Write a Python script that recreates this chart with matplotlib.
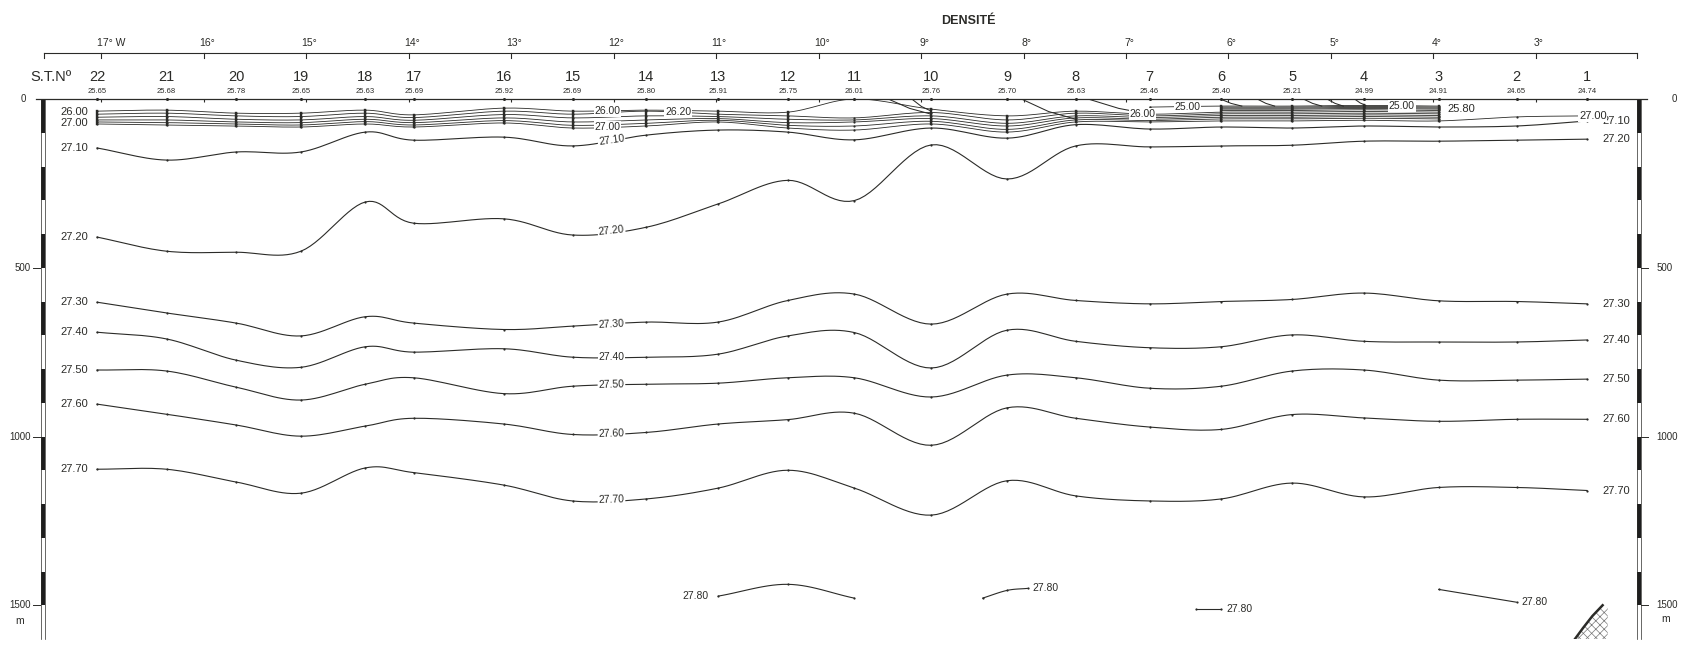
import numpy as np
import matplotlib
matplotlib.use("Agg")
import matplotlib.pyplot as plt
import matplotlib.transforms as mtransforms
from matplotlib.patches import Rectangle, Polygon

plt.rcParams['font.family'] = ['Liberation Sans', 'DejaVu Sans']
plt.rcParams['hatch.linewidth'] = 0.5

nan = np.nan
INK = '#2b2b28'

# stations from west to east
stations = ['22', '21', '20', '19', '18', '17', '16', '15', '14', '13', '12',
            '11', '10', '9', '8', '7', '6', '5', '4', '3', '2', '1']
station_lon = [-17.04, -16.36, -15.68, -15.05, -14.42, -13.95, -13.07, -12.40,
               -11.68, -10.98, -10.30, -9.65, -8.90, -8.16, -7.49, -6.77,
               -6.07, -5.38, -4.68, -3.95, -3.19, -2.50]
surface_density = ['25.65', '25.68', '25.78', '25.65', '25.63', '25.69', '25.92',
                   '25.69', '25.80', '25.91', '25.75', '26.01', '25.76', '25.70',
                   '25.63', '25.46', '25.40', '25.21', '24.99', '24.91', '24.65',
                   '24.74']

lon_ticks = [-17, -16, -15, -14, -13, -12, -11, -10, -9, -8, -7, -6, -5, -4, -3]
lon_labels = ['17° W', '16°', '15°', '14°', '13°', '12°', '11°', '10°', '9°',
              '8°', '7°', '6°', '5°', '4°', '3°']

# depth (m) of the isopycnals at each station
d2710 = [145, 181, 157, 157, 98, 122, 113, 139, 107, 92, 98, 121, 86, 116, 76,
         89, 83, 86, 80, 83, 80, 65]
d2720 = [409, 451, 454, 451, 305, 368, 355, 403, 380, 311, 241, 301, 136, 237,
         139, 142, 139, 137, 125, 125, 122, 119]
d2730 = [602, 634, 664, 702, 645, 664, 683, 673, 661, 661, 597, 578, 667, 578,
         597, 607, 600, 594, 575, 598, 600, 607]
d2740 = [691, 711, 774, 795, 734, 750, 740, 765, 765, 756, 702, 692, 797, 685,
         718, 737, 734, 699, 718, 720, 720, 714]
d2750 = [803, 806, 854, 892, 845, 826, 873, 851, 845, 842, 826, 826, 883, 818,
         826, 857, 851, 806, 803, 833, 833, 830]
d2760 = [904, 934, 966, 999, 969, 946, 963, 994, 988, 963, 950, 931, 1026, 915,
         946, 972, 979, 935, 945, 955, 949, 949]
d2770 = [1097, 1097, 1135, 1168, 1093, 1107, 1144, 1191, 1185, 1153, 1100, 1153,
         1233, 1131, 1176, 1191, 1185, 1138, 1179, 1151, 1151, 1160]

# surface layer
s2500 = [nan, nan, nan, nan, nan, nan, nan, nan, nan, nan, nan, nan, nan, nan,
         nan, 24, 21, 21, 19, 21, nan, nan]
s2520 = [nan, nan, nan, nan, nan, nan, nan, nan, nan, nan, nan, nan, nan, nan,
         nan, nan, 24, 24, 22, 24, nan, nan]
s2540 = [nan, nan, nan, nan, nan, nan, nan, nan, nan, nan, nan, nan, nan, nan,
         nan, nan, 27, 27, 25, 27, nan, nan]
s2560 = [nan, nan, nan, nan, nan, nan, nan, nan, nan, nan, nan, nan, nan, nan,
         nan, nan, 30, 30, 28, 30, nan, nan]
s2580 = [nan, nan, nan, nan, nan, nan, nan, nan, nan, nan, nan, nan, nan, nan,
         nan, nan, 34, 34, 32, 34, nan, nan]
s2600 = [36, 33, 42, 42, 33, 47, 27, 36, 33, 36, 39, 0, 30, 50, 36, 45, 39, 39,
         37, 39, nan, nan]
s2620 = [45, 42, 50, 52, 42, 55, 36, 45, 36, 45, 50, 56, 40, 62, 42, 50, 44, 44,
         42, 44, nan, nan]
s2640 = [54, 52, 60, 62, 52, 63, 46, 56, 50, 52, 60, 62, 50, 72, 50, 55, 49, 49,
         47, 49, nan, nan]
s2660 = [62, 62, 68, 70, 60, 70, 56, 68, 62, 58, 70, 68, 58, 80, 56, 60, 54, 54,
         52, 54, nan, nan]
s2680 = [68, 70, 74, 77, 67, 77, 64, 78, 72, 63, 78, 80, 66, 90, 62, 64, 59, 59,
         57, 59, nan, nan]
s2700 = [74, 77, 80, 83, 74, 83, 71, 86, 80, 68, 86, 92, 74, 98, 68, 68, 65, 65,
         63, 65, 53, 50]

# isopycnals reaching the surface
outcrop_lon0 = [-9.32, -9.09, -8.02, -7.37, -6.08, -5.72, -5.27, -5.04, -4.77]
outcrop_lon1 = [-8.90, -8.90, -7.49, -6.77, -5.87, -5.55, -5.09, -4.88, -4.66]
outcrop_dep1 = [45, 36, 60, 45, 21, 21, 21, 21, 19]

# 27.80 pieces
p2780_lon = [[-10.98, -10.30, -9.65], [-8.40, -8.16, -7.96], [-6.32, -6.07],
             [-3.95, -3.19]]
p2780_dep = [[1473, 1438, 1479], [1479, 1456, 1450], [1512, 1512], [1453, 1491]]
p2780_label = [(-11.07, 1473, 'right'), (-7.91, 1450, 'left'),
               (-6.02, 1512, 'left'), (-3.14, 1491, 'left')]

# sea floor
floor_lon = [-2.62, -2.54, -2.45, -2.35, -2.30, -2.30]
floor_dep = [1600, 1567, 1532, 1500, 1509, 1600]

W, H = 1682, 645
XMIN, XMAX = -17.571, -1.995
YMAX = 1600
XPX = 1596.5 / (XMAX - XMIN)
YPX = 540 / YMAX

fig = plt.figure(figsize=(W / 100, H / 100), dpi=100)
ax = fig.add_axes([42.5 / W, 1 - 639 / H, 1596.5 / W, 540 / H])
ax.set_xlim(XMIN, XMAX)
ax.set_ylim(YMAX, 0)
ax.set_axis_off()


def smooth(x, y, n=14):
    px = np.asarray(x, float) * XPX
    py = np.asarray(y, float) * YPX
    if len(px) < 3:
        return np.asarray(x, float), np.asarray(y, float)
    P = np.column_stack([px, py])
    P = np.vstack([2 * P[0] - P[1], P, 2 * P[-1] - P[-2]])
    t = np.linspace(0, 1, n, endpoint=False)[:, None]
    out = []
    for i in range(1, len(P) - 2):
        p0, p1, p2, p3 = P[i - 1], P[i], P[i + 1], P[i + 2]
        out.append(0.5 * (2 * p1 + (p2 - p0) * t
                          + (2 * p0 - 5 * p1 + 4 * p2 - p3) * t ** 2
                          + (3 * p1 - p0 - 3 * p2 + p3) * t ** 3))
    out.append(P[-2][None])
    out = np.vstack(out)
    return out[:, 0] / XPX, out[:, 1] / YPX


def draw_iso(lon, dep, lw=0.8, dots=True):
    lon = np.asarray(lon, float)
    dep = np.asarray(dep, float)
    ok = ~np.isnan(dep)
    idx = np.where(ok)[0]
    if len(idx) == 0:
        return
    runs = np.split(idx, np.where(np.diff(idx) > 1)[0] + 1)
    for r in runs:
        sx, sy = smooth(lon[r], dep[r])
        ax.plot(sx, sy, color=INK, lw=lw, solid_capstyle='round')
        if dots:
            ax.plot(lon[r], dep[r], 'o', color=INK, ms=1.6, mew=0)


def slope_angle(lon, dep, at):
    i = np.searchsorted(station_lon, at)
    dx = (station_lon[i] - station_lon[i - 1]) * XPX
    dy = (dep[i] - dep[i - 1]) * YPX
    return -np.degrees(np.arctan2(dy, dx))


lab = dict(color=INK, fontsize=8, va='center')
box = dict(facecolor='white', edgecolor='none', pad=0.6)

# deep isopycnals with labels at both ends and mid-section
deep = [('27.10', d2710), ('27.20', d2720), ('27.30', d2730), ('27.40', d2740),
        ('27.50', d2750), ('27.60', d2760), ('27.70', d2770)]
for name, dep in deep:
    draw_iso(station_lon, dep)
    ax.text(station_lon[0] - 0.09, dep[0], name, ha='right', **lab)
    ax.text(station_lon[-1] + 0.15, dep[-1], name, ha='left', **lab)
    mid = -12.02
    ax.text(mid, np.interp(mid, station_lon, dep), name, ha='center',
            rotation=slope_angle(station_lon, dep, mid), rotation_mode='anchor',
            bbox=box, color=INK, fontsize=7.5, va='center')

# surface layer
surface = [s2500, s2520, s2540, s2560, s2580, s2600, s2620, s2640, s2660,
           s2680, s2700]
for dep in surface:
    draw_iso(station_lon, dep, lw=0.6)

for lon, dep in zip(station_lon, np.array(surface, float).T):
    if np.nanmin(dep) <= 0 or np.sum(~np.isnan(dep)) < 6 or lon == station_lon[15]:
        continue
    ax.plot([lon, lon], [np.nanmin(dep), np.nanmax(dep)], color=INK, lw=1.7)

for a, b, d in zip(outcrop_lon0, outcrop_lon1, outcrop_dep1):
    ax.plot([a, (a + b) / 2, b], [0, d * 0.62, d], color=INK, lw=0.75)

ax.text(station_lon[0] - 0.09, s2600[0] + 2, '26.00', ha='right', **lab)
ax.text(station_lon[0] - 0.09, s2700[0] - 2, '27.00', ha='right', **lab)
ax.text(station_lon[-1] - 0.08, s2700[-1], '27.00', ha='left', bbox=box, **lab)
inline = [('26.00', s2600, -12.06), ('26.20', s2620, -11.37),
          ('27.00', s2700, -12.06), ('26.00', s2600, -6.84),
          ('25.00', s2500, -6.40), ('25.00', s2500, -4.31)]
for name, dep, at in inline:
    d = np.interp(at, np.array(station_lon)[~np.isnan(dep)],
                  np.array(dep)[~np.isnan(dep)])
    ax.text(at, d, name, ha='center', bbox=box, color=INK, fontsize=7.5,
            va='center')
ax.text(station_lon[19] + 0.09, s2580[19] - 4, '25.80', ha='left', **lab)

# 27.80
for lon, dep in zip(p2780_lon, p2780_dep):
    draw_iso(lon, dep)
for at, d, ha in p2780_label:
    ax.text(at, d, '27.80', ha=ha, color=INK, fontsize=7.5, va='center')

# sea floor
ax.add_patch(Polygon(list(zip(floor_lon, floor_dep)), closed=True,
                     facecolor='white', edgecolor='#777', lw=0, hatch='xxxx'))
ax.plot(floor_lon[:4], floor_dep[:4], color=INK, lw=1.8)

# surface line, station marks, longitude ticks on it
ax.plot([-0.004, 1.005], [0, 0], transform=mtransforms.blended_transform_factory(
    ax.transAxes, ax.transData), color=INK, lw=0.9, clip_on=False)
ax.plot(station_lon, [0] * len(station_lon), 'o', color=INK, ms=2.2, mew=0,
        clip_on=False)
ax.vlines(lon_ticks, 0, 10, color=INK, lw=0.8)

# depth bars on both sides
bt = mtransforms.blended_transform_factory(ax.transAxes, ax.transData)
bw = 4 / 1596.5
for xc in (0, 1):
    x0 = xc - bw / 2
    for d in range(0, YMAX, 200):
        ax.add_patch(Rectangle((x0, d), bw, 100, transform=bt, facecolor='#1e1e1e',
                               edgecolor='none', clip_on=False))
    ax.plot([x0, x0], [0, YMAX], transform=bt, color=INK, lw=0.5, clip_on=False)
    ax.plot([x0 + bw, x0 + bw], [0, YMAX], transform=bt, color=INK, lw=0.5,
            clip_on=False)

depth_ticks = [500, 1000, 1500]
for d in depth_ticks:
    ax.plot([-0.006, -0.0015], [d, d], transform=bt, color=INK, lw=0.7,
            clip_on=False)
    ax.plot([1.0015, 1.0056], [d, d], transform=bt, color=INK, lw=0.7,
            clip_on=False)
    ax.text(-0.0075, d, str(d), transform=bt, ha='right', va='center',
            fontsize=7, color=INK)
    ax.text(1.0110, d, str(d), transform=bt, ha='left', va='center',
            fontsize=7, color=INK)
ax.text(-0.0105, 0, '0', transform=bt, ha='right', va='center', fontsize=7,
        color=INK)
ax.text(1.0205, 0, '0', transform=bt, ha='left', va='center', fontsize=7,
        color=INK)
ax.text(-0.0145, 1548, 'm', transform=bt, ha='center', va='center', fontsize=7.5,
        color=INK)
ax.text(1.0165, 1540, 'm', transform=bt, ha='center', va='center', fontsize=7.5,
        color=INK)

# longitude scale above
xt = ax.get_xaxis_transform()
ytop = 1 + 46 / 540
tick = 5 / 540
ax.plot([XMIN + 0.015, XMAX - 0.02], [ytop, ytop], transform=xt, color=INK,
        lw=0.8, clip_on=False)
for x in [XMIN + 0.015, XMAX - 0.02] + lon_ticks:
    ax.plot([x, x], [ytop, ytop - tick], transform=xt, color=INK, lw=0.8,
            clip_on=False)
for x, s in zip(lon_ticks, lon_labels):
    if s.endswith('W'):
        ax.text(x - 0.04, 1 + 56 / 540, s, transform=xt, ha='left', va='center',
                fontsize=7.5, color=INK)
    else:
        ax.text(x + 0.03, 1 + 56 / 540, s, transform=xt, ha='center',
                va='center', fontsize=7.5, color=INK)

for x, s, dv in zip(station_lon, stations, surface_density):
    ax.text(x, 1 + 22 / 540, s, transform=xt, ha='center', va='center',
            fontsize=10.5, color=INK)
    ax.text(x, 1 + 7.5 / 540, dv, transform=xt, ha='center', va='center',
            fontsize=5.5, color=INK)

fig.text(30 / W, 1 - 77 / H, 'S.T.Nº', ha='left', va='center', fontsize=10.5,
         color=INK)
fig.text(968 / W, 1 - 21 / H, 'DENSITÉ', ha='center', va='center', fontsize=9,
         fontweight='bold', color=INK)

fig.savefig('out.png', dpi=100, facecolor='white')
